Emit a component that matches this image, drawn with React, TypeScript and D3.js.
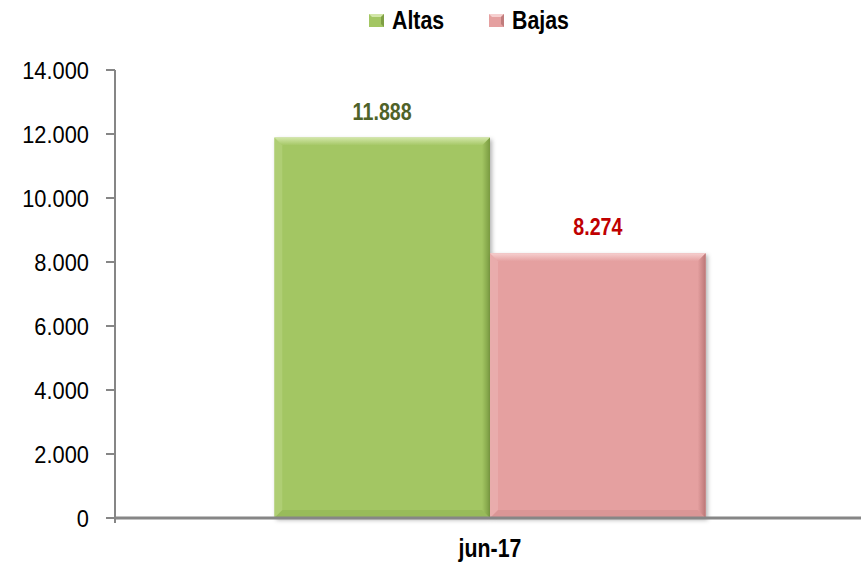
import React, { useEffect, useRef } from "react";
import * as d3 from "d3";

const categories = ["jun-17"];
const seriesNames = ["Altas", "Bajas"];
const altas = [11888];
const bajas = [8274];
const yTicks = [0, 2000, 4000, 6000, 8000, 10000, 12000, 14000];

const fills = ["#A3C663", "#E5A0A0"];
const darks = ["#6F8F38", "#B06C6C"];
const lights = ["#D2E6A8", "#F6D0D0"];
const labelColors = ["#4F6228", "#C00000"];

const W = 861;
const H = 568;
const margin = { top: 70, right: 0, bottom: 50, left: 115 };
const NARROW = 0.82;

const fmt = (v: number) => d3.format(",")(v).replace(/,/g, ".");

export default function App() {
  const ref = useRef<SVGSVGElement | null>(null);
  useEffect(() => {
    const svg = d3.select(ref.current);
    svg.selectAll("*").remove();
    const innerH = H - margin.top - margin.bottom; // 448
    const y = d3.scaleLinear().domain([0, 14000]).range([margin.top + innerH, margin.top]);
    const x0 = d3.scaleBand().domain(categories).range([margin.left + 4, W - margin.right]).paddingInner(0).paddingOuter(0.36);
    const x1 = d3.scaleBand().domain(seriesNames).range([0, x0.bandwidth()]).padding(0);

    const narrowText = (x: number, yy: number, size: number, txt: string, color: string, anchor: string, weight = "bold") =>
      svg.append("text")
        .attr("transform", `translate(${x},${yy}) scale(${NARROW},1)`)
        .attr("text-anchor", anchor)
        .attr("font-family", "'Liberation Sans', Arial, sans-serif")
        .attr("font-weight", weight).attr("font-size", size)
        .attr("fill", color)
        .text(txt);

    const defs = svg.append("defs");
    seriesNames.forEach((s, i) => {
      const gTop = defs.append("linearGradient").attr("id", `top${i}`).attr("x1", 0).attr("y1", 0).attr("x2", 0).attr("y2", 1);
      gTop.append("stop").attr("offset", "0%").attr("stop-color", lights[i]);
      gTop.append("stop").attr("offset", "100%").attr("stop-color", fills[i]);
      const gR = defs.append("linearGradient").attr("id", `right${i}`).attr("x1", 0).attr("y1", 0).attr("x2", 1).attr("y2", 0);
      gR.append("stop").attr("offset", "0%").attr("stop-color", fills[i]);
      gR.append("stop").attr("offset", "100%").attr("stop-color", darks[i]);
    });
    const filt = defs.append("filter").attr("id", "shadow").attr("x", "-10%").attr("y", "-10%").attr("width", "130%").attr("height", "130%");
    filt.append("feDropShadow").attr("dx", 2).attr("dy", 2).attr("stdDeviation", 2).attr("flood-color", "#000").attr("flood-opacity", 0.3);

    const data = categories.map((c, ci) => ({ c, vals: [altas[ci], bajas[ci]] }));

    data.forEach((d) => {
      d.vals.forEach((v, i) => {
        const bx = (x0(d.c) as number) + (x1(seriesNames[i]) as number);
        const bw = x1.bandwidth();
        const by = y(v);
        const bh = y(0) - y(v);
        const g = svg.append("g");
        g.append("rect").attr("x", bx).attr("y", by).attr("width", bw).attr("height", bh).attr("fill", fills[i]).attr("filter", "url(#shadow)");
        const b = 8;
        g.append("path")
          .attr("d", `M${bx},${by} L${bx + bw},${by} L${bx + bw - b},${by + b} L${bx + b},${by + b} Z`)
          .attr("fill", `url(#top${i})`);
        g.append("path")
          .attr("d", `M${bx + bw},${by} L${bx + bw},${by + bh} L${bx + bw - b},${by + bh - b} L${bx + bw - b},${by + b} Z`)
          .attr("fill", `url(#right${i})`).attr("opacity", 0.8);
        g.append("path")
          .attr("d", `M${bx},${by} L${bx + b},${by + b} L${bx + b},${by + bh - b} L${bx},${by + bh} Z`)
          .attr("fill", lights[i]).attr("opacity", 0.25);
        g.append("path")
          .attr("d", `M${bx},${by + bh} L${bx + b},${by + bh - b} L${bx + bw - b},${by + bh - b} L${bx + bw},${by + bh} Z`)
          .attr("fill", darks[i]).attr("opacity", 0.2);
        narrowText(bx + bw / 2, by - 18, 24, fmt(v), labelColors[i], "middle");
      });
    });

    const axisColor = "#868686";
    svg.append("line").attr("x1", margin.left).attr("x2", margin.left).attr("y1", y(14000)).attr("y2", y(0) + 5).attr("stroke", axisColor).attr("stroke-width", 2);
    yTicks.forEach((t) => {
      svg.append("line").attr("x1", margin.left - 9).attr("x2", margin.left).attr("y1", y(t)).attr("y2", y(t)).attr("stroke", axisColor).attr("stroke-width", 2);
      svg.append("text").attr("transform", `translate(${margin.left - 26},${y(t)}) scale(0.95,1)`).attr("dy", "0.37em")
        .attr("text-anchor", "end").attr("font-family", "'Liberation Sans', Arial, sans-serif").attr("font-size", 23).attr("fill", "#000")
        .text(fmt(t));
    });
    svg.append("line").attr("x1", margin.left).attr("x2", W).attr("y1", y(0)).attr("y2", y(0)).attr("stroke", axisColor).attr("stroke-width", 3);
    categories.forEach((c) => {
      narrowText((x0(c) as number) + x0.bandwidth() / 2, 557, 26, c, "#000", "middle");
    });

    const legX = [369, 489];
    seriesNames.forEach((s, i) => {
      const lx = legX[i];
      const mw = 15, mh = 13, my = 14;
      svg.append("rect").attr("x", lx).attr("y", my).attr("width", mw).attr("height", mh).attr("fill", fills[i]);
      svg.append("path").attr("d", `M${lx},${my} L${lx + mw},${my} L${lx + mw - 3},${my + 3} L${lx + 3},${my + 3} Z`).attr("fill", lights[i]);
      svg.append("path").attr("d", `M${lx + mw},${my} L${lx + mw},${my + mh} L${lx + mw - 3},${my + mh - 3} L${lx + mw - 3},${my + 3} Z`).attr("fill", darks[i]).attr("opacity", 0.7);
      narrowText(lx + 23, 29, 26, s, "#000", "start");
    });
  }, []);
  return (
    <svg ref={ref} width={W} height={H} style={{ position: "absolute", left: 0, top: 0, background: "#fff" }} />
  );
}
